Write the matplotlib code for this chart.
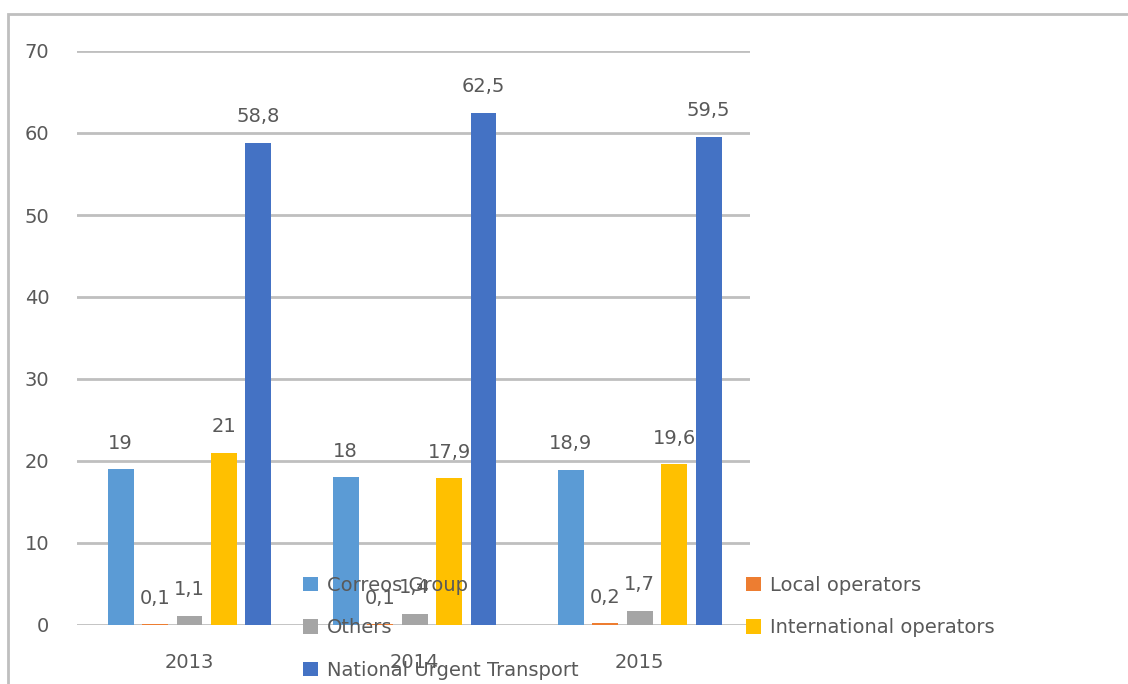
import matplotlib

matplotlib.use("Agg")
import matplotlib.pyplot as plt
from matplotlib.patches import Rectangle
import numpy as np

plt.rcParams["font.family"] = ["DejaVu Sans"]

years = ["2013", "2014", "2015"]
series = [
    "Correos Group",
    "Local operators",
    "Others",
    "International operators",
    "National Urgent Transport",
]
values = [
    [19, 18, 18.9],
    [0.1, 0.1, 0.2],
    [1.1, 1.4, 1.7],
    [21, 17.9, 19.6],
    [58.8, 62.5, 59.5],
]
colors = ["#5B9BD5", "#ED7D31", "#A5A5A5", "#FFC000", "#4472C4"]

TEXT = "#595959"
GRID = "#BFBFBF"
FS = 14


def fmt(v):
    s = f"{v:g}"
    return s.replace(".", ",")


fig = plt.figure(figsize=(11.28, 6.84), dpi=100)
ax = fig.add_axes([77 / 1128, 1 - 625 / 684, (750 - 77) / 1128, (625 - 51) / 684])

x = np.arange(len(years))
width = 0.115
step = 0.153
handles = []
for i, (name, vals, col) in enumerate(zip(series, values, colors)):
    pos = x + (i - 2) * step
    bars = ax.bar(pos, vals, width, color=col, label=name, zorder=3)
    handles.append(bars)
    for p, v in zip(pos, vals):
        ax.annotate(fmt(v), (p, v), xytext=(0, 12), textcoords="offset points",
                    ha="center", va="bottom", fontsize=FS, color=TEXT)

ax.set_ylim(0, 70)
ax.set_xlim(-0.5, 2.49)
ax.set_yticks(range(0, 71, 10))
ax.yaxis.grid(True, color=GRID, linewidth=2, zorder=0)
ax.set_xticks(x)
ax.set_xticklabels(years)
ax.tick_params(axis="both", length=0, labelsize=FS, labelcolor=TEXT)
ax.tick_params(axis="y", pad=20)
ax.tick_params(axis="x", pad=20)
for side in ax.spines.values():
    side.set_visible(False)

leg = fig.legend(
    handles=[handles[0], handles[2], handles[4], handles[1], handles[3]],
    labels=[series[0], series[2], series[4], series[1], series[3]],
    ncol=2,
    loc="upper left",
    bbox_to_anchor=(303 / 1128, 1 - 576 / 684),
    frameon=False,
    fontsize=FS,
    labelcolor=TEXT,
    handlelength=0.75,
    handleheight=0.75,
    handletextpad=0.5,
    labelspacing=1.2,
    columnspacing=8.6,
    borderaxespad=0,
    borderpad=0,
)
leg.set_zorder(5)

# outer frame around the chart area
fig.add_artist(Rectangle((8 / 1128, -0.05), 1.1, 1.05 - 14 / 684,
                         transform=fig.transFigure, fill=False,
                         edgecolor=GRID, linewidth=2))

fig.savefig("out.png", dpi=100)
